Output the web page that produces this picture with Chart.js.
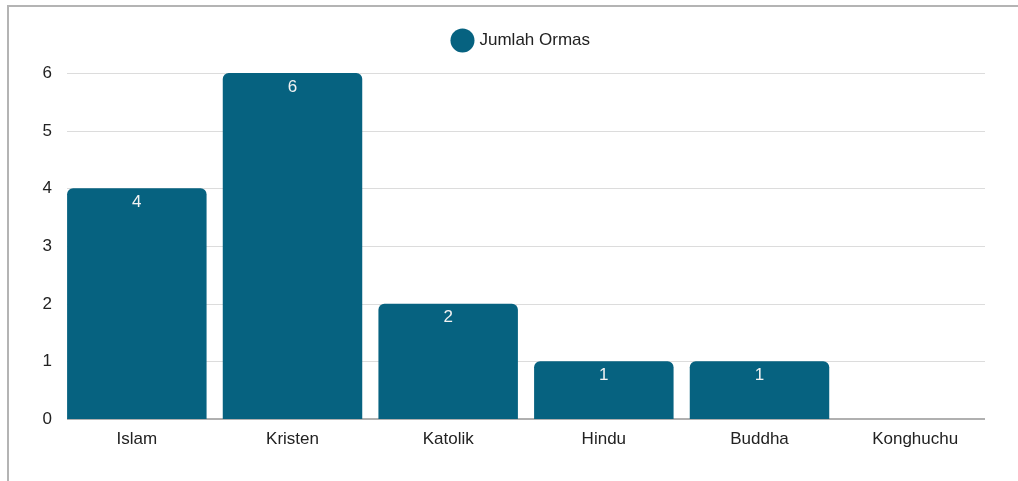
<!DOCTYPE html>
<html>
<head>
<meta charset="utf-8">
<script src="https://cdn.jsdelivr.net/npm/chart.js@4"></script>
<style>
  html, body { margin: 0; padding: 0; background: #fff; }
  #wrap { position: relative; width: 1018px; height: 481px; overflow: hidden; }
  #frame {
    position: absolute; left: 7px; top: 5px; right: -5px; bottom: -5px;
    border-top: 2px solid #b4b4b4; border-left: 2px solid #b4b4b4;
  }
  canvas { position: absolute; left: 0; top: 0; }
</style>
</head>
<body>
<div id="wrap">
  <div id="frame"></div>
  <canvas id="chart" width="1018" height="481"></canvas>
</div>
<script>
/* data */
const categories = ["Islam", "Kristen", "Katolik", "Hindu", "Buddha", "Konghuchu"];
const jumlahOrmas = [4, 6, 2, 1, 1, 0];
const yTicks = [0, 1, 2, 3, 4, 5, 6];
const seriesName = "Jumlah Ormas";
const barColor = "#066280";
const FONT = "'Liberation Sans', Arial, sans-serif";

Chart.defaults.font.family = FONT;

// extra room under the legend
const legendGap = {
  id: "legendGap",
  beforeLayout(chart) {
    const lg = chart.legend;
    if (!lg || lg._gapPatched) return;
    const fit = lg.fit.bind(lg);
    lg.fit = function () {
      fit();
      this.height += 14;
    };
    lg._gapPatched = true;
  }
};

// gridlines inset so the outer bars sit flush with their ends, plus y labels
const gridLines = {
  id: "gridLines",
  beforeDatasetsDraw(chart) {
    const ctx = chart.ctx;
    const y = chart.scales.y;
    const a = chart.chartArea;
    const inset = 8;
    ctx.save();
    yTicks.forEach((v) => {
      const py = Math.round(y.getPixelForValue(v));
      ctx.beginPath();
      ctx.strokeStyle = v === 0 ? "#b0b0b0" : "#dcdcdc";
      ctx.lineWidth = v === 0 ? 2 : 1;
      const off = v === 0 ? 0 : 0.5;
      ctx.moveTo(a.left + inset, py + off);
      ctx.lineTo(a.right - inset, py + off);
      ctx.stroke();

      ctx.fillStyle = "#222";
      ctx.font = "17px " + FONT;
      ctx.textAlign = "right";
      ctx.textBaseline = "middle";
      ctx.fillText(String(v), a.left - 7, py);
    });
    ctx.restore();
  }
};

const valueLabels = {
  id: "valueLabels",
  afterDatasetsDraw(chart) {
    const ctx = chart.ctx;
    const meta = chart.getDatasetMeta(0);
    ctx.save();
    ctx.fillStyle = "#f2f2f2";
    ctx.font = "17px " + FONT;
    ctx.textAlign = "center";
    ctx.textBaseline = "middle";
    meta.data.forEach((bar, i) => {
      const v = jumlahOrmas[i];
      if (!v) return;
      ctx.fillText(String(v), bar.x, bar.y + 14);
    });
    ctx.restore();
  }
};

new Chart(document.getElementById("chart"), {
  type: "bar",
  data: {
    labels: categories,
    datasets: [{
      label: seriesName,
      data: jumlahOrmas,
      backgroundColor: barColor,
      borderWidth: 0,
      borderRadius: { topLeft: 6, topRight: 6, bottomLeft: 0, bottomRight: 0 },
      borderSkipped: "bottom",
      barPercentage: 0.896,
      categoryPercentage: 1
    }]
  },
  options: {
    responsive: false,
    animation: false,
    layout: { padding: { left: 51, right: 25, top: 8, bottom: 0 } },
    plugins: {
      legend: {
        display: true,
        labels: {
          usePointStyle: true,
          pointStyle: "circle",
          boxWidth: 17,
          boxHeight: 17,
          color: "#222",
          font: { size: 17 },
          padding: 24
        }
      },
      tooltip: { enabled: false }
    },
    scales: {
      x: {
        grid: { display: false, drawTicks: false },
        border: { display: false },
        ticks: { color: "#222", font: { size: 17 }, padding: 10 },
        afterFit(s) { s.height = 62; }
      },
      y: {
        min: 0,
        max: 6,
        afterBuildTicks(s) { s.ticks = yTicks.map(v => ({ value: v })); },
        grid: { display: false, drawTicks: false },
        border: { display: false },
        ticks: { display: false },
        afterFit(s) { s.width = 8; }
      }
    }
  },
  plugins: [legendGap, gridLines, valueLabels]
});
</script>
</body>
</html>
